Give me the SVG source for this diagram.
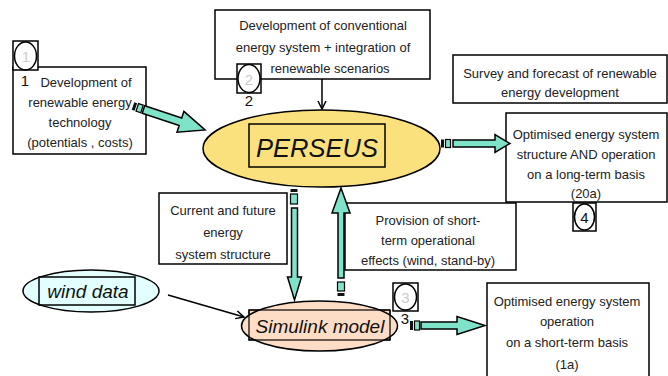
<svg xmlns="http://www.w3.org/2000/svg" width="668" height="376" viewBox="0 0 668 376">
<style>
.box{fill:#fff;stroke:#000;stroke-width:1.5}
.t{font-family:"Liberation Sans",Arial,sans-serif;font-size:13px;fill:#222;text-anchor:middle}
.big{font-family:"Liberation Sans",Arial,sans-serif;font-style:italic;fill:#111;text-anchor:middle}
.arr{fill:#7FE3C9;stroke:#000;stroke-width:1.5;stroke-linejoin:miter}
.tailb{fill:#111}
.tailw{fill:#7FE3C9;stroke:#000;stroke-width:1.2}
.num{font-family:"Liberation Sans",Arial,sans-serif;font-size:15px;fill:#111;text-anchor:middle}
.numg{font-family:"Liberation Sans",Arial,sans-serif;font-size:15px;fill:#ccc;text-anchor:middle}
.sq{fill:#fff;stroke:#000;stroke-width:1.5}
.circ{fill:none;stroke:#000;stroke-width:1.5}
.line{stroke:#000;stroke-width:1.5;fill:none}
</style>
<defs>
<marker id="ah" markerWidth="10" markerHeight="10" refX="9" refY="5" orient="auto" markerUnits="userSpaceOnUse">
<path d="M1,1 L9,5 L1,9" fill="none" stroke="#000" stroke-width="1.5"/>
</marker>
</defs>

<g id="survey">
<rect class="box" x="453" y="55" width="214" height="48"/>
<text class="t" x="560" y="78">Survey and forecast of renewable</text>
<text class="t" x="560" y="97">energy development</text>
</g>

<g id="provision">
<rect class="box" x="345" y="203" width="171" height="67"/>
<text class="t" x="428" y="225">Provision of short-</text>
<text class="t" x="428" y="245">term operational</text>
<text class="t" x="428" y="265">effects (wind, stand-by)</text>
</g>

<g id="longterm">
<rect class="box" x="506" y="113" width="161" height="89"/>
<text class="t" x="586" y="139">Optimised energy system</text>
<text class="t" x="586" y="159">structure AND operation</text>
<text class="t" x="586" y="179">on a long-term basis</text>
<text class="t" x="586" y="198">(20a)</text>
</g>

<g id="label4">
<rect class="sq" x="573" y="203" width="23" height="28"/>
<ellipse class="circ" cx="584.5" cy="217" rx="10" ry="13"/>
<text class="num" x="584.5" y="223">4</text>
</g>

<g id="renewable">
<rect class="box" x="13" y="67" width="133" height="87"/>
<text class="t" x="86" y="87">Development of</text>
<text class="t" x="80" y="107">renewable energy</text>
<text class="t" x="80" y="127">technology</text>
<text class="t" x="80" y="147">(potentials , costs)</text>
</g>

<g id="label1">
<rect class="sq" x="13" y="41" width="25" height="29"/>
<ellipse class="circ" cx="25.5" cy="56" rx="11" ry="14"/>
<text class="numg" x="26" y="62">1</text>
<text class="num" x="25" y="86">1</text>
</g>

<g id="conventional">
<rect class="box" x="215" y="10" width="215" height="69"/>
<text class="t" x="323" y="30">Development of conventional</text>
<text class="t" x="323" y="52">energy system + integration of</text>
<text class="t" x="330" y="73">renewable scenarios</text>
</g>

<g id="label2">
<rect class="sq" x="237" y="64" width="24" height="29"/>
<ellipse class="circ" cx="249" cy="78.5" rx="11" ry="14"/>
<text class="numg" x="249" y="85">2</text>
<text class="num" x="249" y="106">2</text>
</g>

<g id="current">
<rect class="box" x="159" y="193" width="128" height="71"/>
<text class="t" x="223" y="215">Current and future</text>
<text class="t" x="223" y="237">energy</text>
<text class="t" x="223" y="259">system structure</text>
</g>

<g id="shortterm">
<rect class="box" x="487" y="283" width="162" height="96"/>
<text class="t" x="567" y="306">Optimised energy system</text>
<text class="t" x="567" y="326">operation</text>
<text class="t" x="567" y="347">on a short-term basis</text>
<text class="t" x="567" y="369">(1a)</text>
</g>

<g id="perseus">
<ellipse cx="321.5" cy="148.5" rx="118.5" ry="38.5" fill="#FBE17D" stroke="#000" stroke-width="1.5"/>
<rect x="249" y="124" width="136" height="43" fill="none" stroke="#000" stroke-width="1.5"/>
<text class="big" x="317" y="157" font-size="25.5">PERSEUS</text>
</g>

<g id="simulink">
<rect x="249" y="310" width="141" height="30" fill="#FDDDC5" stroke="#000" stroke-width="1.2"/>
<ellipse cx="319.5" cy="326" rx="78" ry="25" fill="#FDDDC5" stroke="#000" stroke-width="1.5"/>
<rect x="249" y="310" width="141" height="30" fill="none" stroke="#000" stroke-width="1.2"/>
<text class="big" x="320" y="333" font-size="19">Simulink model</text>
</g>

<g id="label3">
<rect class="sq" x="393" y="283" width="25" height="28"/>
<ellipse class="circ" cx="405.5" cy="297" rx="11" ry="13"/>
<text class="numg" x="405.5" y="303">3</text>
<text class="num" x="405" y="324" font-size="13">3</text>
</g>

<g id="winddata">
<ellipse cx="91" cy="291" rx="68" ry="21" fill="#E3FEFE" stroke="#000" stroke-width="1.5"/>
<rect x="39" y="277" width="96" height="28" fill="none" stroke="#000" stroke-width="1.5"/>
<text class="big" x="88" y="298" font-size="19">wind data</text>
</g>

<g id="connectors">
<line class="line" x1="322" y1="79" x2="322" y2="109" marker-end="url(#ah)"/>
<line class="line" x1="168" y1="295" x2="244" y2="317" marker-end="url(#ah)"/>

<g transform="translate(133,106) rotate(18.4)">
<rect class="tailb" x="0" y="-4" width="3" height="8"/>
<rect class="tailw" x="4.5" y="-4" width="5" height="8"/>
<polygon class="arr" points="11,-4 50,-4 50,-11 76,0 50,11 50,4 11,4"/>
</g>

<g>
<rect class="tailb" x="441" y="139.5" width="3" height="8"/>
<rect class="tailw" x="445.5" y="139.5" width="5" height="8"/>
<polygon class="arr" points="453,140 495,140 495,134.5 510,143.5 495,152.5 495,147 453,147"/>
</g>

<g>
<rect class="tailb" x="290.5" y="189" width="7" height="3"/>
<rect class="tailw" x="290.5" y="194" width="7" height="10"/>
<polygon class="arr" points="291.5,208 297.5,208 297.5,277 301.5,277 294.5,300 287.5,277 291.5,277"/>
</g>

<g>
<polygon class="arr" points="341,188 350,213 344,213 344,278 338,278 338,213 332,213"/>
<rect class="tailw" x="337.5" y="282" width="7" height="9"/>
<rect class="tailb" x="337.5" y="293" width="7" height="3"/>
</g>

<g>
<rect class="tailb" x="410" y="321" width="3" height="9"/>
<rect class="tailw" x="414.5" y="321" width="5" height="9"/>
<polygon class="arr" points="421,322 457,322 457,316.5 485,325.5 457,334.5 457,329 421,329"/>
</g>
</g>
</svg>
